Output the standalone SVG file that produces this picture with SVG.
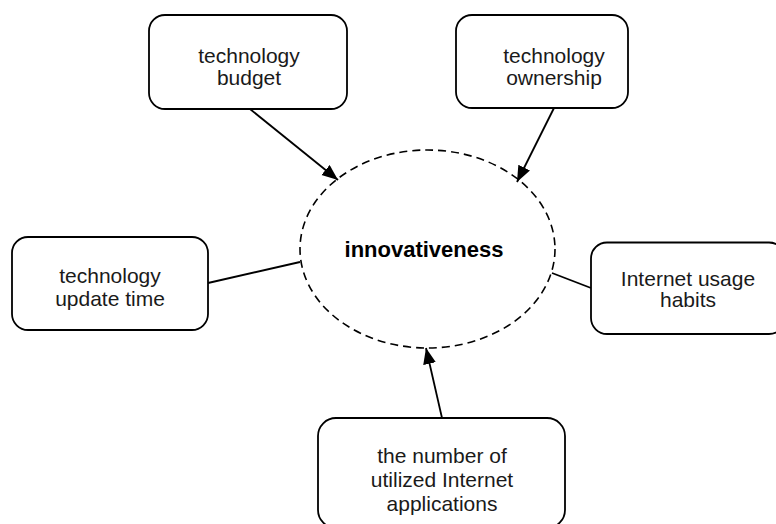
<svg xmlns="http://www.w3.org/2000/svg" width="776" height="524" viewBox="0 0 776 524">
<style>
.box{fill:#fff;stroke:#000;stroke-width:1.8}
.t{font-family:"Liberation Sans",Arial,sans-serif;font-size:21px;fill:#1a1a1a;text-anchor:middle}
.b{font-family:"Liberation Sans",Arial,sans-serif;font-size:22px;font-weight:bold;fill:#000;text-anchor:middle}
.c{stroke:#000;stroke-width:1.8;fill:none}
</style>
<defs>
<marker id="arr" markerUnits="userSpaceOnUse" markerWidth="17" markerHeight="14" refX="16" refY="6.5" orient="auto">
<path d="M0,0 L16,6.5 L0,13 z" fill="#000"/>
</marker>
</defs>
<rect width="776" height="524" fill="#fff"/>
<g id="innovativeness">
<ellipse cx="427.5" cy="249" rx="127.5" ry="99" fill="#fff" stroke="#000" stroke-width="1.6" stroke-dasharray="8,5"/>
<text class="b" x="424" y="257">innovativeness</text>
</g>
<g id="connectors">
<line class="c" x1="250" y1="109" x2="338" y2="180" marker-end="url(#arr)"/>
<line class="c" x1="554" y1="108" x2="517" y2="182" marker-end="url(#arr)"/>
<line class="c" x1="208" y1="283" x2="300" y2="262"/>
<line class="c" x1="591" y1="288" x2="552" y2="273"/>
<line class="c" x1="442" y1="418" x2="426" y2="348" marker-end="url(#arr)"/>
</g>
<g id="budget">
<rect class="box" x="149" y="15" width="198" height="94" rx="16"/>
<text class="t" x="249" y="63">technology</text>
<text class="t" x="249" y="85">budget</text>
</g>
<g id="ownership">
<rect class="box" x="456" y="15" width="172" height="93" rx="16"/>
<text class="t" x="554" y="63">technology</text>
<text class="t" x="554" y="85">ownership</text>
</g>
<g id="update">
<rect class="box" x="12" y="237" width="196" height="93" rx="16"/>
<text class="t" x="110" y="283">technology</text>
<text class="t" x="110" y="306">update time</text>
</g>
<g id="habits">
<rect class="box" x="591" y="242.5" width="194" height="91.5" rx="16"/>
<text class="t" x="688" y="286">Internet usage</text>
<text class="t" x="688" y="307">habits</text>
</g>
<g id="apps">
<rect class="box" x="318" y="418" width="247" height="110" rx="18"/>
<text class="t" x="442" y="463">the number of</text>
<text class="t" x="442" y="487">utilized Internet</text>
<text class="t" x="442" y="511">applications</text>
</g>
</svg>
